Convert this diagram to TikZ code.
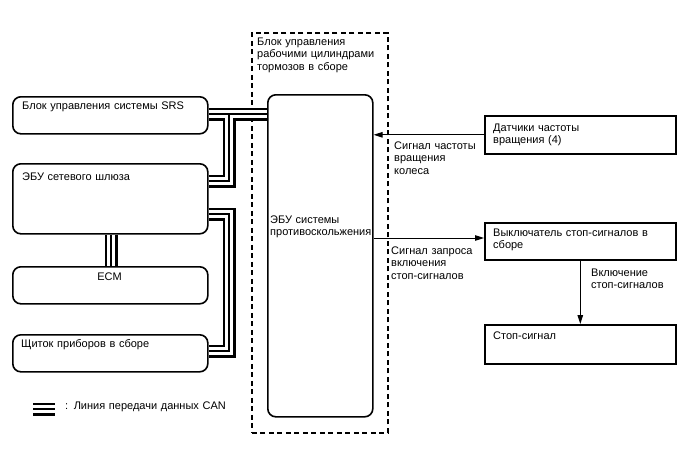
\documentclass[tikz,border=0pt]{standalone}
\usepackage{fontspec}
\setmainfont{Liberation Sans}
\usetikzlibrary{arrows.meta,calc}
\begin{document}
\begin{tikzpicture}[x=1pt,y=-1pt,
  rbox/.style={draw,line width=1.6pt,rounded corners=8pt,anchor=north west,inner sep=0pt},
  sbox/.style={draw,line width=1.6pt,anchor=north west,inner sep=0pt},
  txt/.style={anchor=base west,inner sep=0pt,align=left,text width=190pt,
    font=\fontsize{11}{12.9}\selectfont},
  arr/.style={line width=1pt,-{Triangle[length=9pt,width=5.5pt]}}
]
\useasboundingbox (0,0) rectangle (688,463);
% frame
\node[draw,dash pattern=on 5pt off 3.5pt,line width=1.5pt,anchor=north west,inner sep=0pt,
  minimum width=136pt,minimum height=400pt] (frame) at (251,32) {};
\node[txt] (frametxt) at (257,45) {Блок управления\\рабочими цилиндрами\\тормозов в сборе};
% left boxes
\node[rbox,minimum width=195pt,minimum height=37pt] (srs) at (12,96) {};
\node[rbox,minimum width=195pt,minimum height=70pt] (gw) at (12,163) {};
\node[rbox,minimum width=195pt,minimum height=37pt] (ecm) at (12,266) {};
\node[rbox,minimum width=195pt,minimum height=37pt] (cl) at (12,334) {};
\node[txt] (srstxt) at (22,109) {Блок управления системы SRS};
\node[txt] (gwtxt) at (22,180) {ЭБУ сетевого шлюза};
\node[anchor=base,inner sep=0pt,font=\fontsize{11}{12.9}\selectfont] (ecmtxt) at (109.5,280) {ECM};
\node[txt] (cltxt) at (21,347) {Щиток приборов в сборе};
% main ECU
\node[rbox,minimum width=105pt,minimum height=322pt] (ecu) at (267,94) {};
\node[txt] (ecutxt) at (270,223) {ЭБУ системы\\противоскольжения};
% right boxes
\node[sbox,minimum width=191pt,minimum height=38pt] (sens) at (484,115) {};
\node[sbox,minimum width=191pt,minimum height=37pt] (sw) at (484,222) {};
\node[sbox,minimum width=191pt,minimum height=39pt] (stop) at (484,324) {};
\node[txt] (senstxt) at (493,131) {Датчики частоты\\вращения (4)};
\node[txt] (swtxt) at (493,236) {Выключатель стоп-сигналов в\\сборе};
\node[txt] (stoptxt) at (493,339) {Стоп-сигнал};
% signals
\draw[arr] (sens.west) -- (sens.west -| ecu.east);
\node[txt] (l1) at (394,149) {Сигнал частоты\\вращения\\колеса};
\coordinate (a2) at (0,238);
\draw[arr] (ecu.east |- a2) -- (sw.west |- a2);
\node[txt] (l2) at (391,254) {Сигнал запроса\\включения\\стоп-сигналов};
\draw[arr] (sw.south) -- (stop.north);
\node[txt] (l3) at (591,276) {Включение\\стоп-сигналов};
% CAN buses
\coordinate (b1) at (0,114);
\coordinate (b2) at (0,181);
\coordinate (b3) at (0,214);
\coordinate (b4) at (0,351);
\coordinate (vx) at (229,0);
\coordinate (ex) at (111,0);
\foreach \w/\c in {13/black,7.5/white,1.4/black}{
  \draw[line width=\w pt,\c,line join=miter] (srs.east |- b1) -- (ecu.west |- b1);
  \draw[line width=\w pt,\c,line join=miter] (gw.east |- b2) -- (vx |- b2) -- (vx |- b1);
  \draw[line width=\w pt,\c,line join=miter] (gw.east |- b3) -- (vx |- b3) -- (vx |- b4) -- (cl.east |- b4);
  \draw[line width=\w pt,\c,line join=miter] (gw.south -| ex) -- (ecm.north -| ex);
}
% legend
\draw[line width=2.5pt] (33,404) -- (55,404) (33,409) -- (55,409) (33,414.5) -- (55,414.5);
\node[txt] (legtxt) at (65,409) {: Линия передачи данных CAN};
\end{tikzpicture}
\end{document}
